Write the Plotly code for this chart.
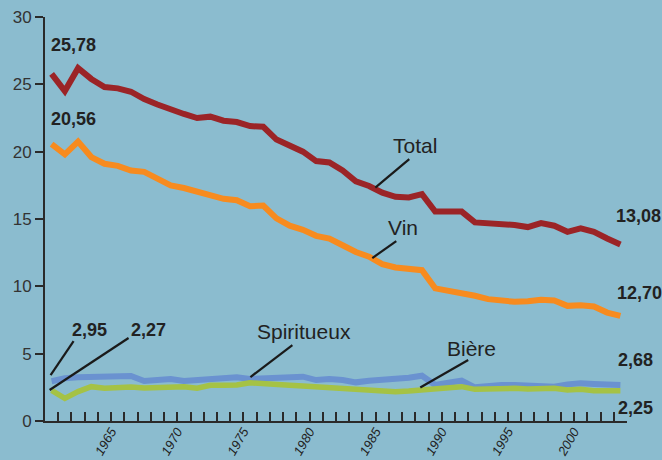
import plotly.graph_objects as go

years = list(range(1960, 2004))
total = [25.78, 24.5, 26.2, 25.4, 24.8, 24.7, 24.45, 23.9, 23.5, 23.1, 22.8, 22.5, 22.6, 22.3,
         22.2, 21.9, 21.85, 20.9, 20.4, 20.0, 19.3, 19.2, 18.6, 17.8, 17.45, 16.95, 16.65, 16.6,
         16.85, 15.55, 15.55, 15.55, 14.75, 14.7, 14.6, 14.55, 14.4, 14.7, 14.5, 14.05, 14.3,
         14.05, 13.55, 13.1]
vin = [20.56, 19.8, 20.75, 19.6, 19.1, 18.95, 18.6, 18.5, 18.0, 17.5, 17.3, 17.0, 16.75, 16.5,
       16.4, 15.95, 16.0, 15.05, 14.5, 14.2, 13.75, 13.55, 13.05, 12.55, 12.2, 11.65, 11.4, 11.25,
       11.2, 9.85, 9.7, 9.55, 9.3, 9.05, 8.9, 8.85, 8.9, 9.0, 8.95, 8.55, 8.6, 8.5, 8.05, 7.8]
spiritueux = [2.95, 3.17, 3.24, 3.29, 3.34, 3.36, 3.34, 2.97, 3.04, 3.12, 2.97, 3.04, 3.21, 3.21,
              3.24, 3.12, 3.17, 3.24, 3.32, 3.29, 3.04, 3.12, 3.04, 2.87, 2.99, 3.04, 3.12, 3.21,
              3.36, 2.67, 2.84, 2.99, 2.5, 2.62, 2.67, 2.67, 2.62, 2.62, 2.55, 2.72, 2.8, 2.75,
              2.67, 2.68]
biere = [2.27, 1.68, 2.18, 2.55, 2.43, 2.47, 2.52, 2.45, 2.5, 2.52, 2.55, 2.43, 2.65, 2.65,
         2.67, 2.84, 2.75, 2.67, 2.65, 2.6, 2.55, 2.5, 2.43, 2.3, 2.3, 2.25, 2.18, 2.23, 2.3,
         2.43, 2.5, 2.55, 2.35, 2.38, 2.43, 2.43, 2.38, 2.43, 2.43, 2.3, 2.35, 2.25, 2.3, 2.25]
labelled_years = [1965, 1970, 1975, 1980, 1985, 1990, 1995, 2000]
y_ticks = [0, 5, 10, 15, 20, 25, 30]

BG = "#8BBCCF"
TXT = "#222222"
FONT = "Liberation Sans, Arial, sans-serif"

W, H = 662, 460
ML, MR, MT, MB = 45, 35, 17, 39

fig = go.Figure()
series = [
    (total, "#9B2427", 6),
    (vin, "#F78B1F", 6),
    (spiritueux, "#6A92D0", 6),
    (biere, "#A5C245", 5.5),
]
for vals, col, w in series:
    fig.add_trace(go.Scatter(x=years, y=vals, mode="lines",
                             line=dict(color=col, width=w, shape="linear"),
                             hoverinfo="skip", showlegend=False))

# pixel helpers for annotation placement (paper coordinates)
def ppx(x):
    return (x - ML) / (W - ML - MR)

def ppy(y):
    return (H - MB - y) / (H - MT - MB)

# pixel helpers for leader lines (data coordinates)
def px(x):
    return 1960 + (x - 51) / 13.24

def py(y):
    return (421 - y) / 13.47

tickvals = [y - 0.5 for y in years[1:]]
ticktext = [str(y) if y in labelled_years else "" for y in years[1:]]

annots = [
    ("<b>25,78</b>", 49, 45.5, 18),
    ("<b>20,56</b>", 49, 119, 18),
    ("<b>2,95</b>", 70, 329.5, 18),
    ("<b>2,27</b>", 129, 329.5, 18),
    ("<b>13,08</b>", 614, 216, 18),
    ("<b>12,70</b>", 615, 293, 18),
    ("<b>2,68</b>", 616, 359.5, 18),
    ("<b>2,25</b>", 616, 407.5, 18),
    ("Spiritueux", 255, 331.7, 21),
    ("Bière", 445, 348.5, 21),
    ("Total", 391, 145, 21),
    ("Vin", 386, 227, 21),
]
for text, x, y, size in annots:
    fig.add_annotation(x=ppx(x), y=ppy(y), xref="paper", yref="paper", text=text,
                       showarrow=False, xanchor="left", yanchor="middle",
                       font=dict(family=FONT, size=size, color=TXT))

leaders = [
    (73, 341, 50, 375),
    (128, 338, 49, 390),
    (292, 345, 250, 377),
    (468, 360, 420, 387.5),
    (409, 159, 375, 187.5),
    (396, 241, 372, 258),
]
for x0, y0, x1, y1 in leaders:
    fig.add_shape(type="line", xref="x", yref="y", x0=px(x0), y0=py(y0), x1=px(x1), y1=py(y1),
                  line=dict(color="#1a1a1a", width=2.2))

fig.update_layout(
    width=W, height=H,
    margin=dict(l=ML, r=MR, t=MT, b=MB, pad=0),
    paper_bgcolor=BG, plot_bgcolor=BG,
    font=dict(family=FONT, color=TXT),
    xaxis=dict(range=[1959.5, 2003.5], showgrid=False, zeroline=False, automargin=False,
               showline=True, linecolor="#2a2a2a", linewidth=2,
               tickmode="array", tickvals=tickvals, ticktext=ticktext,
               ticks="inside", ticklen=9, tickwidth=1.5, tickcolor="#2a2a2a",
               ticklabelstandoff=-4,
               tickangle=-60, tickfont=dict(family=FONT, size=13, color=TXT, style="italic")),
    yaxis=dict(range=[0, 30], showgrid=False, zeroline=False, automargin=False,
               showline=True, linecolor="#2a2a2a", linewidth=2,
               tickmode="array", tickvals=y_ticks,
               ticks="outside", ticklen=8, tickwidth=1.5, tickcolor="#2a2a2a",
               tickfont=dict(family=FONT, size=17, color="#333333")),
)

fig.write_html("out.html", config={"displayModeBar": False},
               post_script="document.body.style.margin='0';document.body.style.overflow='hidden';"
                           "document.body.style.background='" + BG + "';")
